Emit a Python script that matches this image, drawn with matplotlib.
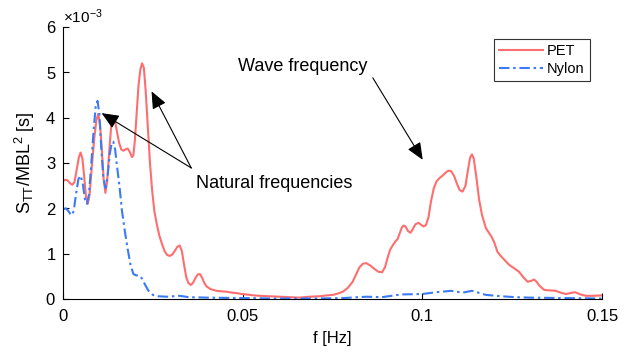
import matplotlib
matplotlib.use("Agg")
import matplotlib.pyplot as plt
from matplotlib.ticker import ScalarFormatter

plt.rcParams['font.family'] = ['Liberation Sans', 'DejaVu Sans']
plt.rcParams['mathtext.fontset'] = 'custom'
plt.rcParams['mathtext.rm'] = 'Liberation Sans'
plt.rcParams['mathtext.it'] = 'Liberation Sans:italic'
plt.rcParams['axes.unicode_minus'] = False

# values in units of 1e-3 s
pet_f = [0.0000, 0.0006, 0.0012, 0.0020, 0.0026, 0.0032, 0.0038, 0.0044, 0.0049, 0.0054,
         0.0059, 0.0064, 0.0069, 0.0074, 0.0080, 0.0087, 0.0093, 0.0098, 0.0103, 0.0108,
         0.0113, 0.0118, 0.0123, 0.0129, 0.0134, 0.0140, 0.0145, 0.0150, 0.0156, 0.0162,
         0.0168, 0.0174, 0.0180, 0.0186, 0.0192, 0.0196, 0.0200, 0.0205, 0.0210, 0.0215,
         0.0220, 0.0225, 0.0230, 0.0236, 0.0242, 0.0248, 0.0254, 0.0261, 0.0268, 0.0276,
         0.0283, 0.0290, 0.0297, 0.0304, 0.0311, 0.0318, 0.0325, 0.0331, 0.0337, 0.0343,
         0.0349, 0.0356, 0.0362, 0.0369, 0.0375, 0.0381, 0.0387, 0.0393, 0.0399, 0.0410,
         0.0427, 0.0440, 0.0455, 0.0470, 0.0483, 0.0497, 0.0510, 0.0530, 0.0547, 0.0575,
         0.0603, 0.0630, 0.0658, 0.0685, 0.0714, 0.0735, 0.0751, 0.0765, 0.0779, 0.0793,
         0.0806, 0.0816, 0.0825, 0.0835, 0.0844, 0.0855, 0.0867, 0.0878, 0.0888, 0.0896,
         0.0903, 0.0910, 0.0918, 0.0925, 0.0931, 0.0937, 0.0943, 0.0948, 0.0953, 0.0960,
         0.0967, 0.0974, 0.0981, 0.0989, 0.0996, 0.1003, 0.1010, 0.1017, 0.1024, 0.1032,
         0.1040, 0.1048, 0.1056, 0.1064, 0.1072, 0.1080, 0.1088, 0.1096, 0.1104, 0.1112,
         0.1120, 0.1127, 0.1133, 0.1138, 0.1143, 0.1150, 0.1158, 0.1166, 0.1177, 0.1192,
         0.1200, 0.1209, 0.1218, 0.1230, 0.1242, 0.1255, 0.1269, 0.1281, 0.1293, 0.1303,
         0.1311, 0.1318, 0.1325, 0.1339, 0.1355, 0.1371, 0.1385, 0.1399, 0.1412, 0.1425,
         0.1440, 0.1455, 0.1475, 0.1500]
pet_v = [2.60, 2.63, 2.62, 2.55, 2.52, 2.58, 2.85, 3.12, 3.23, 3.10,
         2.70, 2.25, 2.10, 2.30, 2.90, 3.55, 3.95, 4.08, 3.85, 3.30,
         2.65, 2.34, 2.60, 3.30, 3.80, 4.00, 3.92, 3.70, 3.45, 3.30,
         3.27, 3.30, 3.32, 3.24, 3.13, 3.18, 3.50, 4.10, 4.70, 5.05,
         5.20, 5.10, 4.60, 3.80, 3.00, 2.40, 1.95, 1.65, 1.40, 1.20,
         1.05, 0.97, 0.95, 0.98, 1.06, 1.15, 1.18, 1.05, 0.75, 0.48,
         0.35, 0.31, 0.36, 0.47, 0.54, 0.55, 0.47, 0.36, 0.28, 0.22,
         0.18, 0.17, 0.16, 0.14, 0.13, 0.11, 0.10, 0.08, 0.07, 0.06,
         0.05, 0.04, 0.03, 0.05, 0.06, 0.08, 0.09, 0.12, 0.16, 0.25,
         0.38, 0.55, 0.70, 0.78, 0.79, 0.74, 0.66, 0.60, 0.59, 0.70,
         0.90, 1.08, 1.19, 1.27, 1.32, 1.45, 1.58, 1.62, 1.60, 1.50,
         1.46, 1.55, 1.65, 1.68, 1.64, 1.60, 1.63, 1.80, 2.15, 2.45,
         2.60, 2.67, 2.72, 2.78, 2.83, 2.82, 2.72, 2.55, 2.40, 2.37,
         2.50, 2.85, 3.12, 3.19, 3.10, 2.70, 2.19, 1.85, 1.56, 1.38,
         1.25, 1.04, 0.95, 0.85, 0.75, 0.68, 0.60, 0.48, 0.38, 0.40,
         0.43, 0.38, 0.30, 0.20, 0.19, 0.18, 0.14, 0.11, 0.13, 0.15,
         0.10, 0.07, 0.07, 0.08]

nylon_f = [0.0000, 0.0008, 0.0014, 0.0020, 0.0025, 0.0030, 0.0036, 0.0043, 0.0049, 0.0055,
           0.0061, 0.0067, 0.0072, 0.0078, 0.0085, 0.0091, 0.0096, 0.0101, 0.0106, 0.0112,
           0.0118, 0.0124, 0.0130, 0.0136, 0.0140, 0.0145, 0.0150, 0.0157, 0.0164, 0.0172,
           0.0180, 0.0188, 0.0196, 0.0204, 0.0212, 0.0220, 0.0228, 0.0238, 0.0250, 0.0265,
           0.0290, 0.0325, 0.0350, 0.0400, 0.0500, 0.0600, 0.0700, 0.0780, 0.0844, 0.0888,
           0.0940, 0.1000, 0.1040, 0.1080, 0.1112, 0.1138, 0.1177, 0.1220, 0.1260, 0.1300,
           0.1400, 0.1500]
nylon_v = [1.98, 2.00, 1.95, 1.88, 1.85, 1.95, 2.30, 2.65, 2.72, 2.55,
           2.20, 2.10, 2.30, 2.90, 3.70, 4.25, 4.37, 4.10, 3.40, 2.70,
           2.45, 2.70, 3.20, 3.45, 3.47, 3.30, 2.95, 2.50, 1.95, 1.50,
           1.10, 0.75, 0.55, 0.52, 0.52, 0.45, 0.32, 0.18, 0.09, 0.06,
           0.05, 0.07, 0.04, 0.03, 0.02, 0.01, 0.01, 0.02, 0.05, 0.04,
           0.10, 0.11, 0.15, 0.18, 0.14, 0.18, 0.09, 0.06, 0.04, 0.03,
           0.02, 0.01]

scale = 1e-3
x_ticks = [0, 0.05, 0.1, 0.15]
x_ticklabels = ['0', '0.05', '0.1', '0.15']
y_ticks = [0, 1, 2, 3, 4, 5, 6]

fig = plt.figure(figsize=(6.3, 3.52), dpi=100)
ax = fig.add_axes([0.1, 0.1506, 0.8556, 0.7727])

ax.plot(pet_f, [v * scale for v in pet_v], color='#FF6E6E', lw=1.5, label='PET')
ax.plot(nylon_f, [v * scale for v in nylon_v], color='#3A7BF5', lw=1.5,
        linestyle=(0, (5, 1.8, 1.2, 1.8)), label='Nylon')

ax.set_xlim(0, 0.15)
ax.set_ylim(0, 6 * scale)
ax.set_xticks(x_ticks)
ax.set_xticklabels(x_ticklabels)
ax.set_yticks([t * scale for t in y_ticks])
fmt = ScalarFormatter(useMathText=True)
fmt.set_powerlimits((-3, -3))
ax.yaxis.set_major_formatter(fmt)
ax.yaxis.get_offset_text().set_fontsize(11)

for s in ['top', 'right']:
    ax.spines[s].set_visible(False)
ax.tick_params(direction='in', labelsize=12, length=4, width=0.8)
ax.tick_params(axis='x', pad=7)
ax.tick_params(axis='y', pad=5)
ax.set_xlabel('f [Hz]', fontsize=12, labelpad=5)
ax.set_ylabel(r'S$_{\mathrm{TT}}$/MBL$^{2}$ [s]', fontsize=13, labelpad=6)

leg = ax.legend(loc='upper right', fontsize=10.5, frameon=True, fancybox=False,
                edgecolor='black', borderpad=0.35, handlelength=3.0,
                handletextpad=0.3, labelspacing=0.25, borderaxespad=0,
                bbox_to_anchor=(0.977, 0.955))
leg.get_frame().set_linewidth(0.8)

arrow = dict(arrowstyle='-|>,head_length=0.7,head_width=0.3', color='black',
             lw=0.8, mutation_scale=15, shrinkA=0, shrinkB=0)
ax.annotate('', xy=(0.1001, 3.07 * scale), xytext=(0.0862, 4.88 * scale),
            arrowprops=arrow)
ax.text(0.0486, 5.12 * scale, 'Wave frequency', fontsize=13, va='center', ha='left')
ax.annotate('', xy=(0.01075, 4.10 * scale), xytext=(0.0357, 2.89 * scale),
            arrowprops=arrow)
ax.annotate('', xy=(0.02464, 4.58 * scale), xytext=(0.0357, 2.89 * scale),
            arrowprops=arrow)
ax.text(0.0369, 2.54 * scale, 'Natural frequencies', fontsize=13, va='center', ha='left')

fig.savefig('out.png', dpi=100)
